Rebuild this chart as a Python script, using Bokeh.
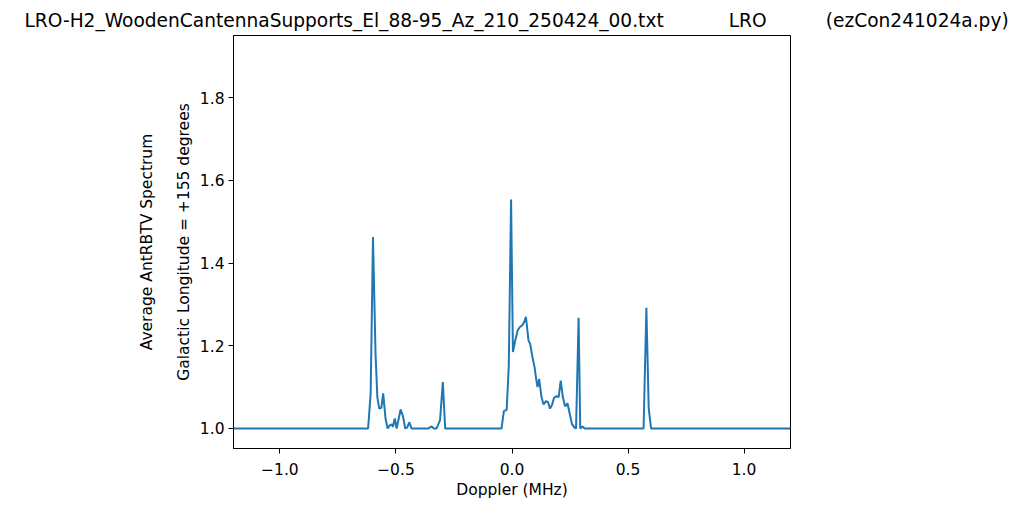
import math
from bokeh.plotting import figure
from bokeh.models import FixedTicker, Range1d, LinearAxis
from bokeh.embed import file_html
from bokeh.resources import INLINE

# ---- data ----
doppler_mhz = [
    -1.2, -0.620, -0.609, -0.599, -0.588, -0.580, -0.572, -0.563, -0.555, -0.545,
    -0.536, -0.526, -0.519, -0.513, -0.505, -0.497, -0.480, -0.470, -0.460, -0.452,
    -0.442, -0.433, -0.360, -0.346, -0.337, -0.325, -0.310, -0.298, -0.288,
    -0.045, -0.035, -0.023, -0.014, -0.004, 0.004, 0.014, 0.025, 0.035, 0.045,
    0.053, 0.060, 0.071, 0.078, 0.088, 0.097, 0.104, 0.110, 0.117, 0.127,
    0.136, 0.146, 0.155, 0.164, 0.173, 0.181, 0.192, 0.201, 0.210, 0.219,
    0.229, 0.239, 0.247, 0.258, 0.269, 0.276, 0.287, 0.294, 0.304, 0.313,
    0.567, 0.579, 0.589, 0.599, 1.2,
]
avg_spectrum = [
    1.0, 1.0, 1.085, 1.463, 1.18, 1.075, 1.048, 1.050, 1.085, 1.024,
    1.0, 1.008, 1.010, 1.004, 1.024, 1.0, 1.046, 1.030, 1.0, 1.002,
    1.015, 1.0, 1.0, 1.005, 1.0, 1.0, 1.02, 1.112, 1.0,
    1.0, 1.042, 1.045, 1.149, 1.554, 1.185, 1.213, 1.238, 1.246, 1.250,
    1.258, 1.270, 1.213, 1.205, 1.173, 1.149, 1.12, 1.10, 1.12, 1.076,
    1.058, 1.066, 1.064, 1.048, 1.058, 1.074, 1.078, 1.076, 1.116, 1.076,
    1.053, 1.061, 1.040, 1.011, 1.002, 1.0, 1.268, 1.0, 1.005, 1.0,
    1.0, 1.292, 1.05, 1.0, 1.0,
]
x_ticks = [-1.0, -0.5, 0.0, 0.5, 1.0]
x_tick_labels = ["\u22121.0", "\u22120.5", "0.0", "0.5", "1.0"]
y_ticks = [1.0, 1.2, 1.4, 1.6, 1.8]
y_tick_labels = ["1.0", "1.2", "1.4", "1.6", "1.8"]

title_main = "LRO-H2_WoodenCantennaSupports_El_88-95_Az_210_250424_00.txt"
title_mid = "LRO"
title_right = "(ezCon241024a.py)"
ylabel_outer = "Average AntRBTV Spectrum"
ylabel_inner = "Galactic Longitude = +155 degrees"
xlabel = "Doppler (MHz)"

FONT = "DejaVu Sans"
TICK_FS = "15.5px"
TITLE_FS = "18.6px"

NB = "\u00a0"
full_title = title_main + NB * 11 + title_mid + NB * 10 + title_right

FRAME_W, FRAME_H = 557, 413
p = figure(width=1024, height=509, frame_width=FRAME_W, frame_height=FRAME_H,
           output_backend="svg", toolbar_location=None,
           x_range=Range1d(-1.2, 1.2), y_range=Range1d(0.9515, 1.9507),
           min_border_left=233, min_border_right=234,
           min_border_top=35, min_border_bottom=61,
           title=full_title)
p.background_fill_color = "white"
p.border_fill_color = "white"
p.outline_line_color = "black"
p.outline_line_width = 1
p.xgrid.visible = False
p.ygrid.visible = False

p.title.text_font = FONT
p.title.text_font_size = TITLE_FS
p.title.text_font_style = "normal"
p.title.text_color = "black"
p.title.align = "left"
p.title.offset = -209
p.title.standoff = 10

p.line(doppler_mhz, avg_spectrum, line_color="#1f77b4", line_width=2)

for ax in (p.xaxis[0], p.yaxis[0]):
    ax.major_tick_out = 5
    ax.major_tick_in = 0
    ax.minor_tick_line_color = None
    ax.axis_line_color = "black"
    ax.major_tick_line_color = "black"
    ax.major_label_text_font = FONT
    ax.major_label_text_font_size = TICK_FS
    ax.major_label_text_color = "black"
    ax.axis_label_text_font = FONT
    ax.axis_label_text_font_size = TICK_FS
    ax.axis_label_text_font_style = "normal"
    ax.axis_label_text_color = "black"

p.xaxis[0].major_label_standoff = 9
p.yaxis[0].major_label_standoff = 4

p.xaxis[0].ticker = FixedTicker(ticks=x_ticks)
p.xaxis[0].major_label_overrides = dict(zip(x_ticks, x_tick_labels))
p.yaxis[0].ticker = FixedTicker(ticks=y_ticks)
p.yaxis[0].major_label_overrides = dict(zip(y_ticks, y_tick_labels))

p.xaxis[0].axis_label = xlabel
p.xaxis[0].axis_label_standoff = 3

p.yaxis[0].axis_label = ylabel_inner
p.yaxis[0].axis_label_standoff = 4

outer = LinearAxis(axis_label=ylabel_outer, ticker=FixedTicker(ticks=[]),
                   axis_line_color=None, major_tick_line_color=None,
                   minor_tick_line_color=None, major_tick_out=0, major_tick_in=0,
                   minor_tick_out=0, minor_tick_in=0,
                   major_label_text_font_size="0px", major_label_standoff=0,
                   axis_label_standoff=16, axis_label_text_font=FONT,
                   axis_label_text_font_size=TICK_FS,
                   axis_label_text_font_style="normal",
                   axis_label_text_color="black")
p.add_layout(outer, "left")

open("out.html", "w").write(file_html(p, INLINE))
